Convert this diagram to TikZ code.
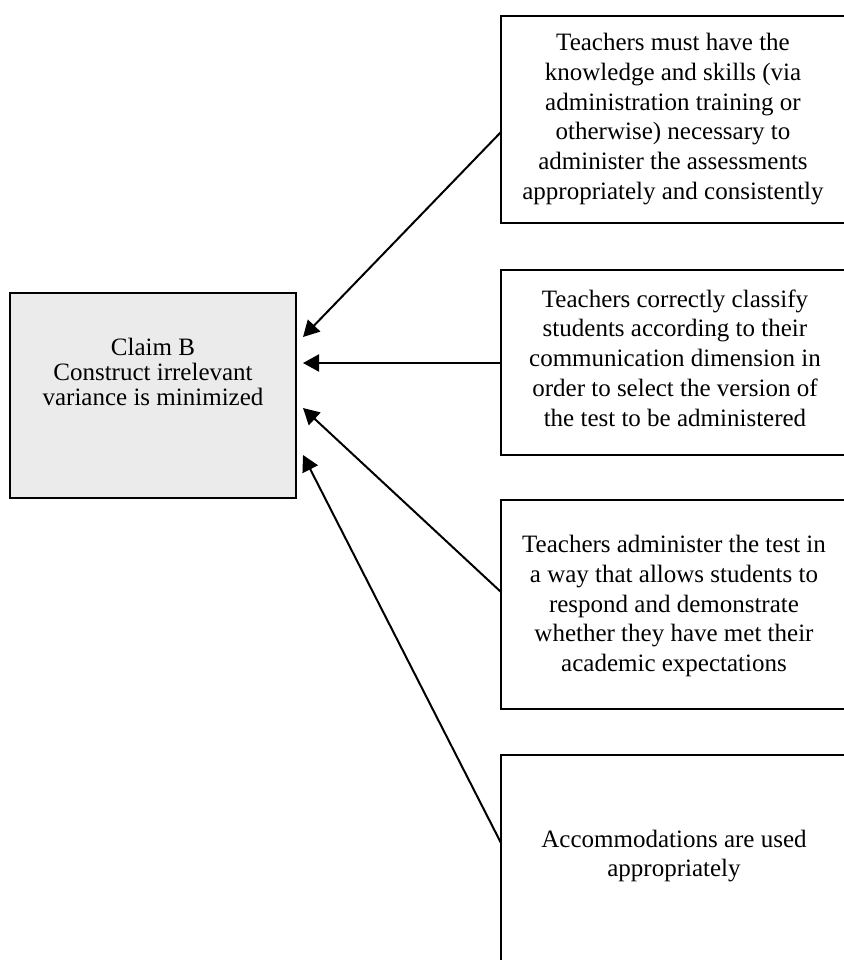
\documentclass[tikz,border=0pt]{standalone}
\usepackage{fontspec}
\setmainfont{Liberation Serif}
\usetikzlibrary{arrows.meta}
\tikzset{
  box/.style={draw=black, line width=1.2pt, rectangle, inner sep=0pt},
  claimbox/.style={box, fill=black!8},
  txt/.style={align=center, inner sep=0pt, font=\fontsize{12.5}{14.9}\selectfont},
  claimtxt/.style={align=center, inner sep=0pt, font=\fontsize{12.5}{12.3}\selectfont},
  arr/.style={line width=1pt, -{Triangle[length=8pt,width=8.5pt]}}
}
\begin{document}
\begin{tikzpicture}[x=0.5pt,y=-0.5pt]
\useasboundingbox (0,0) rectangle (844,960);
% claim box
\node[claimbox, minimum width=143pt, minimum height=102.5pt] (claim) at (153,395.5) {};
\node[claimtxt] (claimt) at (153,372) {Claim B\\Construct irrelevant\\variance is minimized};
% right boxes (right edges fall just outside the picture)
\node[box, minimum width=177pt, minimum height=103.5pt] (b1) at (678,119.5) {};
\node[txt] (t1) at (673,119) {Teachers must have the\\knowledge and skills (via\\administration training or\\otherwise) necessary to\\administer the assessments\\appropriately and consistently};
\node[box, minimum width=177pt, minimum height=92.5pt] (b2) at (678,362.5) {};
\node[txt] (t2) at (675,358) {Teachers correctly classify\\students according to their\\communication dimension in\\order to select the version of\\the test to be administered};
\node[box, minimum width=177pt, minimum height=104.5pt] (b3) at (678,604.5) {};
\node[txt] (t3) at (674,606) {Teachers administer the test in\\a way that allows students to\\respond and demonstrate\\whether they have met their\\academic expectations};
\node[box, minimum width=177pt, minimum height=110pt] (b4) at (678,865) {};
\node[txt] (t4) at (674,856) {Accommodations are used\\appropriately};
% connector ends
\coordinate (s1) at (501,132);
\coordinate (s2) at (501,363);
\coordinate (s3) at (501,592);
\coordinate (s4) at (501,843);
\coordinate (e1) at (303,337);
\coordinate (e2) at (303,363);
\coordinate (e3) at (303,408);
\coordinate (e4) at (303,455);
\draw[arr] (s1) -- (e1);
\draw[arr] (s2) -- (e2);
\draw[arr] (s3) -- (e3);
\draw[arr] (s4) -- (e4);
\end{tikzpicture}
\end{document}
